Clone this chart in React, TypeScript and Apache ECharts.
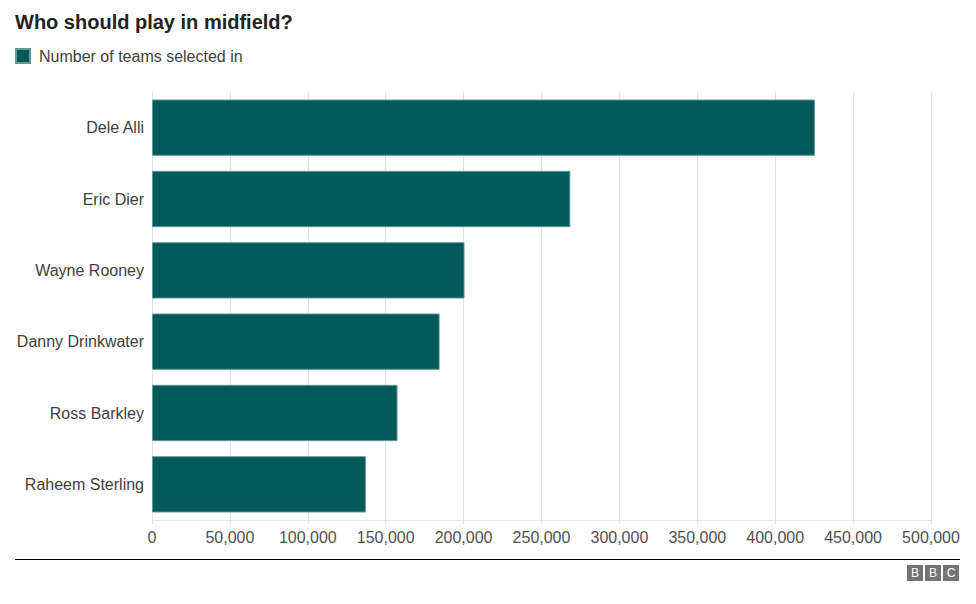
import React, { useEffect, useRef } from "react";
import * as echarts from "echarts";

const players = ["Dele Alli", "Eric Dier", "Wayne Rooney", "Danny Drinkwater", "Ross Barkley", "Raheem Sterling"];
const teamsSelected = [425500, 268500, 200600, 184600, 157600, 137300];
const seriesName = "Number of teams selected in";
const titleText = "Who should play in midfield?";

const FONT = "'Liberation Sans', Arial, Helvetica, sans-serif";

export default function App() {
  const ref = useRef<HTMLDivElement>(null);
  useEffect(() => {
    if (!ref.current) return;
    const chart = echarts.init(ref.current, undefined, { renderer: "svg" });
    chart.setOption({
      animation: false,
      textStyle: { fontFamily: FONT },
      title: {
        text: titleText,
        left: 15,
        top: 12,
        padding: 0,
        textStyle: { fontFamily: FONT, fontSize: 20, fontWeight: "bold", color: "#222222" },
      },
      legend: {
        left: 15,
        top: 48,
        padding: 0,
        itemWidth: 14,
        itemHeight: 14,
        itemGap: 10,
        icon: "rect",
        textStyle: { fontFamily: FONT, fontSize: 16, color: "#404040", padding: [0, 0, 0, 4] },
        data: [seriesName],
      },
      grid: { left: 152, right: 45, top: 92, bottom: 84, containLabel: false },
      xAxis: {
        type: "value",
        min: 0,
        max: 500000,
        interval: 50000,
        axisLine: { show: true, lineStyle: { color: "#e6e6e6" } },
        axisTick: { show: true, length: 4, lineStyle: { color: "#e0e0e0" } },
        splitLine: { show: true, lineStyle: { color: "#e0e0e0", width: 1 } },
        axisLabel: {
          fontFamily: FONT,
          fontSize: 16,
          color: "#505050",
          margin: 9,
          formatter: (v: number) => v.toLocaleString("en-US"),
        },
      },
      yAxis: {
        type: "category",
        inverse: true,
        data: players,
        axisLine: { show: false },
        axisTick: { show: false },
        axisLabel: { fontFamily: FONT, fontSize: 16, color: "#404040", margin: 8 },
      },
      series: [
        {
          name: seriesName,
          type: "bar",
          data: teamsSelected,
          barCategoryGap: "21%",
          itemStyle: { color: "#04595a", borderColor: "#5f9a98", borderWidth: 1 },
        },
      ],
      graphic: [
        {
          type: "line",
          shape: { x1: 15, y1: 559.5, x2: 960, y2: 559.5 },
          style: { stroke: "#000000", lineWidth: 1 },
        },
        {
          type: "group",
          left: 907,
          top: 565,
          children: ["B", "B", "C"].flatMap((ch, i) => [
            { type: "rect", shape: { x: i * 18, y: 0, width: 16, height: 16 }, style: { fill: "#747474" } },
            {
              type: "text",
              x: i * 18 + 8,
              y: 8,
              style: {
                text: ch,
                fill: "#ffffff",
                font: `12px ${FONT}`,
                align: "center",
                verticalAlign: "middle",
              },
            },
          ]),
        },
      ],
    });
    return () => chart.dispose();
  }, []);
  return <div ref={ref} style={{ position: "absolute", left: 0, top: 0, width: 976, height: 604 }} />;
}
